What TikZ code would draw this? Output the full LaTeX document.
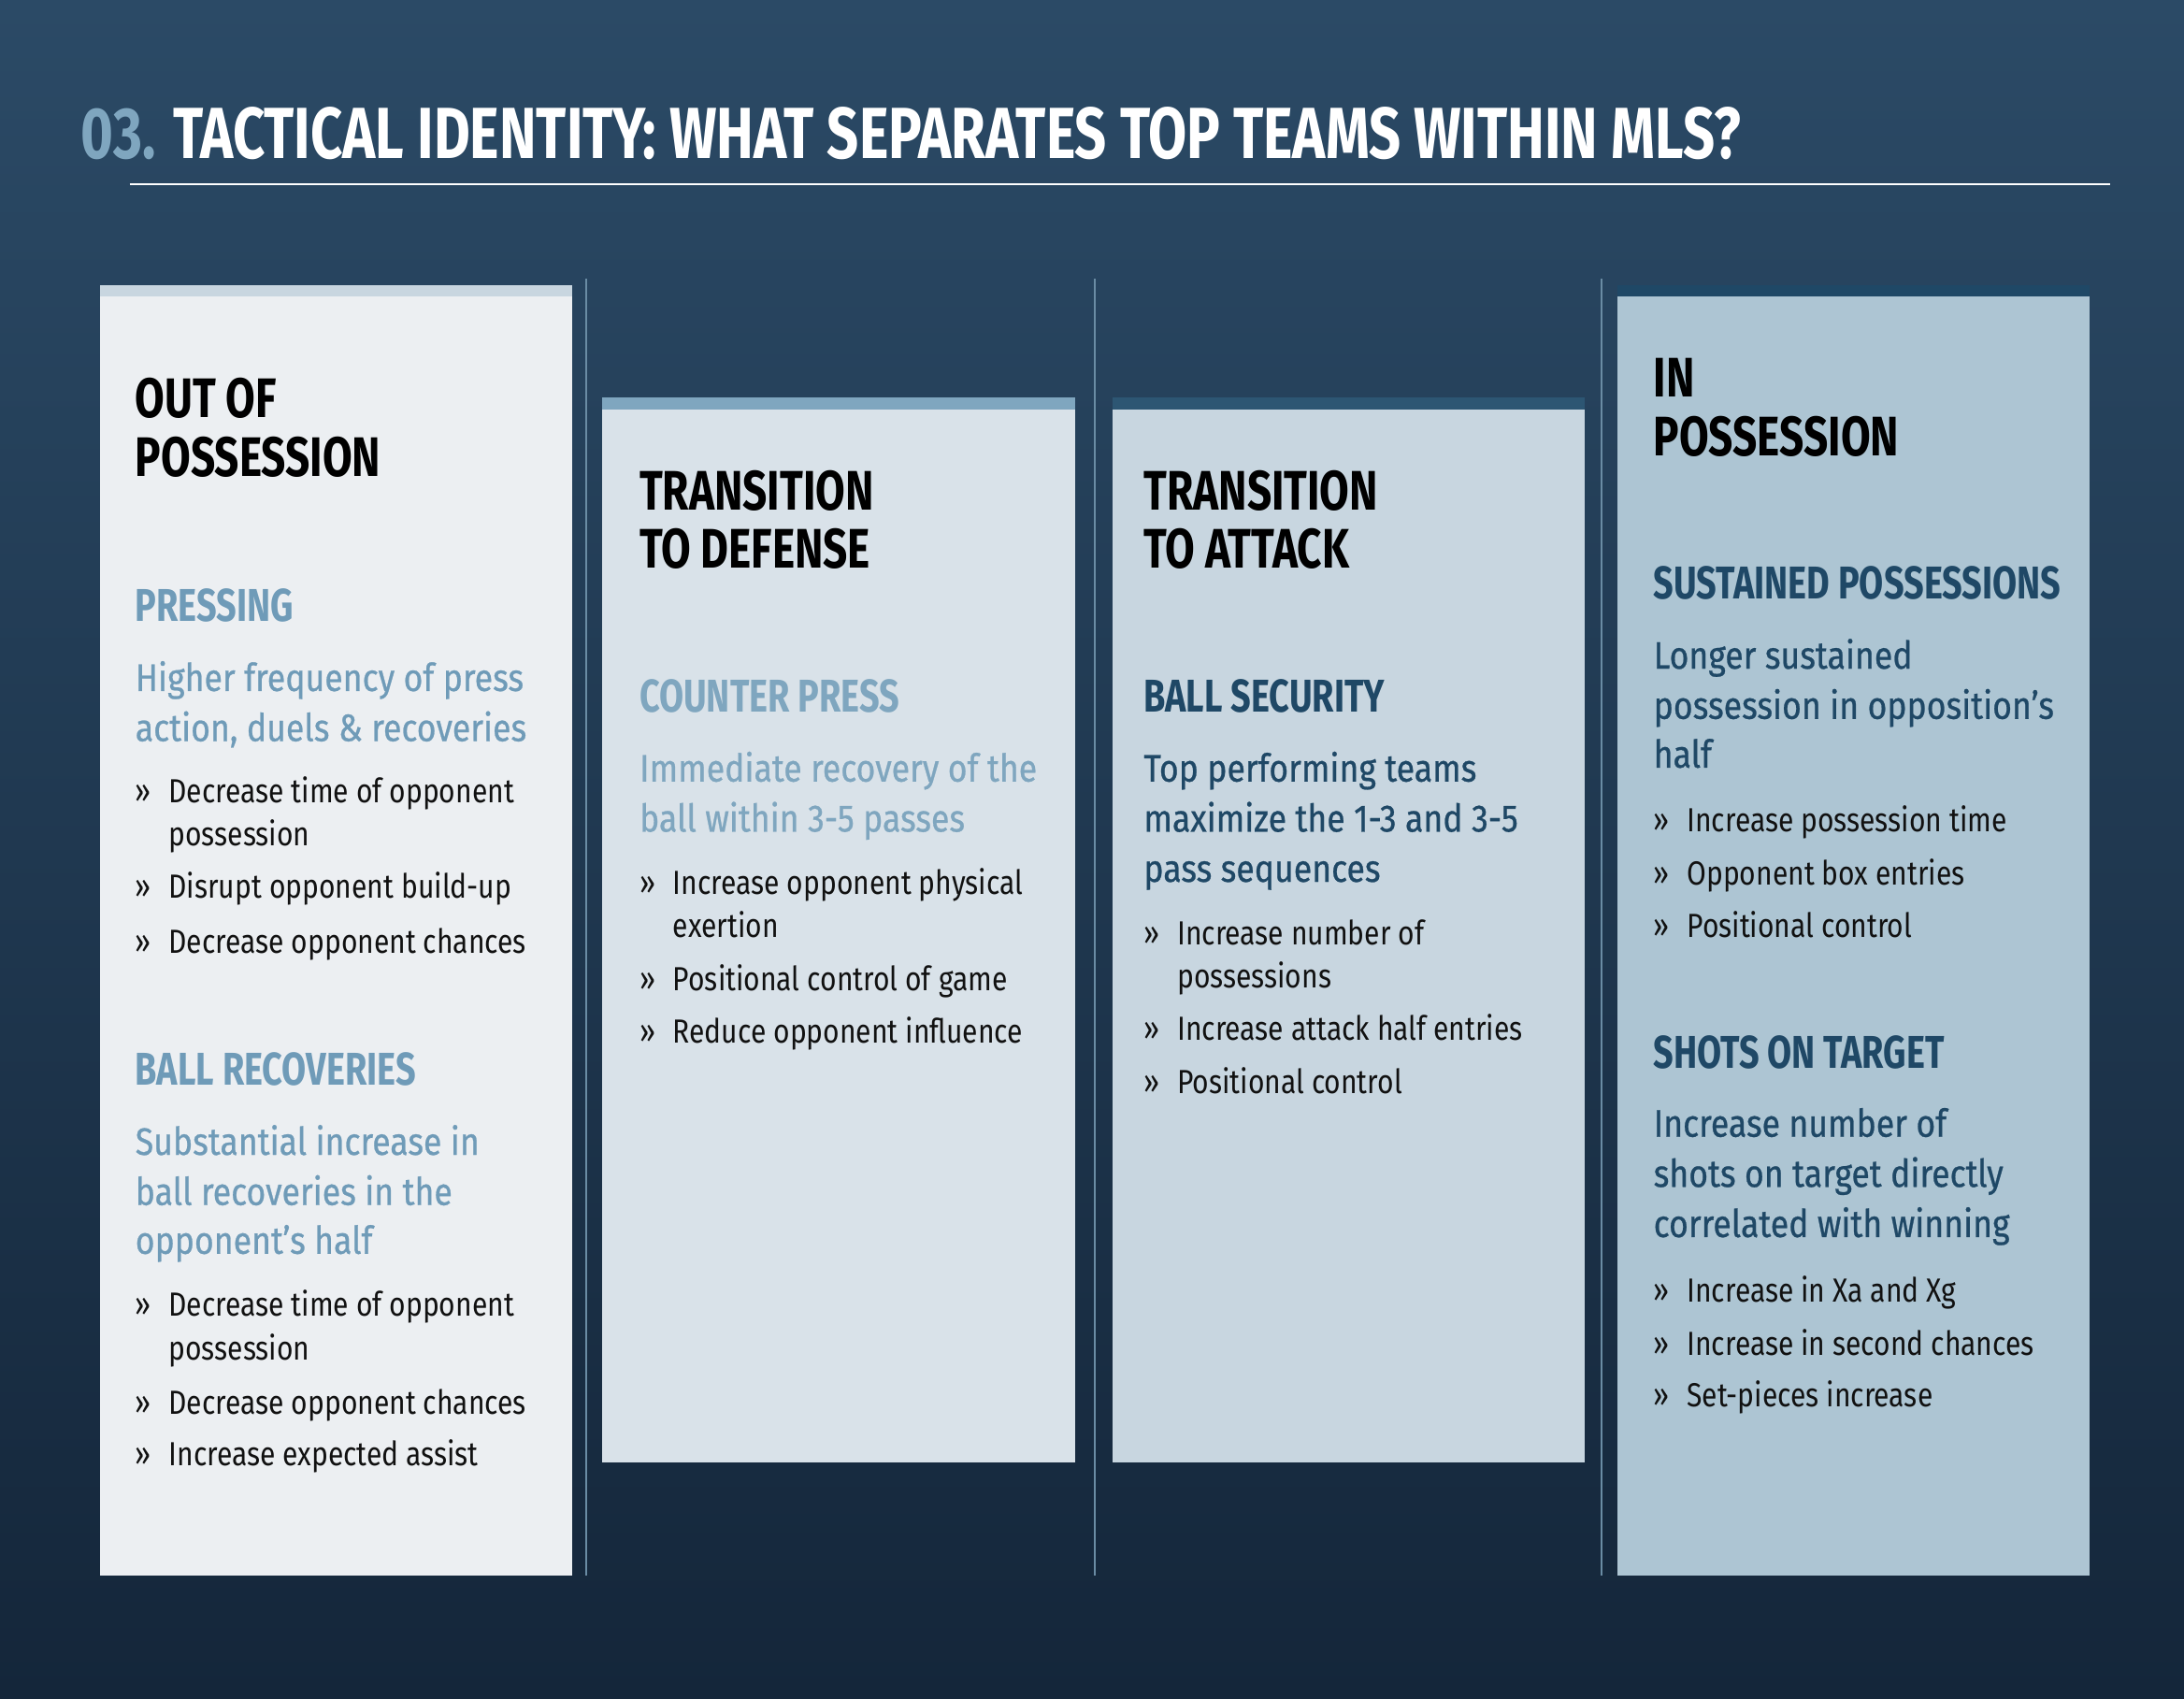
\documentclass[tikz,border=0pt]{standalone}
\usepackage{fontspec}
\setmainfont[FakeStretch=0.84]{Fira Sans}
\newfontfamily\hdfont[FakeStretch=0.77]{Fira Sans}
\newfontfamily\leadfont[FakeStretch=0.87,FakeBold=0.6]{Fira Sans}
\definecolor{bgtop}{HTML}{2B4A66}
\definecolor{bgbot}{HTML}{14263A}
\definecolor{lb}{HTML}{7FA6BF}
\definecolor{mb}{HTML}{6F9BB8}
\definecolor{db}{HTML}{1F4866}
\definecolor{cA}{HTML}{ECEFF2}
\definecolor{cB}{HTML}{D9E2E9}
\definecolor{cC}{HTML}{C8D6E0}
\definecolor{cD}{HTML}{ADC5D3}
\definecolor{ink}{HTML}{111111}
\tikzset{
 big/.style={anchor=base west,inner sep=0,font=\hdfont\bfseries\fontsize{40}{42}\selectfont,text=black},
 sub/.style={anchor=base west,inner sep=0,font=\hdfont\bfseries\fontsize{33}{36}\selectfont},
 lead/.style={anchor=base west,inner sep=0,font=\leadfont\fontsize{27.5}{35.7}\selectfont},
 bul/.style={anchor=base west,inner sep=0,font=\fontsize{24}{31}\selectfont,text=ink},
 sep/.style={draw=lb!80!bgbot,line width=1.4pt}
}
\newcommand{\blt}[4]{\node[bul] at (#1,#3) {»}; \node[bul] at (#2,#3) {#4};}
\begin{document}
\begin{tikzpicture}[x=1pt,y=-1pt]
\shade[top color=bgtop,bottom color=bgbot] (0,0) rectangle (1568,1219);
\useasboundingbox (0,0) rectangle (1568,1219);
% title
\node[anchor=base west,inner sep=0,font=\hdfont\bfseries\fontsize{52}{52}\selectfont] (title) at (58,114) {\textcolor{lb}{03.} \textcolor{white}{TACTICAL IDENTITY: WHAT SEPARATES TOP TEAMS WITHIN MLS?}};
\draw[white,line width=1.2pt] (93,132) -- (1515,132);
% columns
\fill[cA] (72,205) rectangle (411,1131); \fill[cC] (72,205) rectangle (411,213);
\fill[cB] (432,285) rectangle (772,1050); \fill[lb] (432,285) rectangle (772,294);
\fill[cC] (799,285) rectangle (1138,1050); \fill[db!85!lb] (799,285) rectangle (1138,294);
\fill[cD] (1161,205) rectangle (1500,1131); \fill[db] (1161,205) rectangle (1500,213);
\draw[sep] (421,200) -- (421,1131);
\draw[sep] (786,200) -- (786,1131);
\draw[sep] (1150,200) -- (1150,1131);
% col1
\node[big] (h1a) at (97,300) {OUT OF};
\node[big] (h1b) at (97,342) {POSSESSION};
\node[sub,text=mb] (s1) at (97,446) {PRESSING};
\node[lead,text=mb] (l1a) at (97,496) {Higher frequency of press};
\node[lead,text=mb] (l1b) at (97,532) {action, duels \& recoveries};
\blt{97}{121}{576}{Decrease time of opponent}
\node[bul] at (121,607) {possession};
\blt{97}{121}{645}{Disrupt opponent build-up}
\blt{97}{121}{684}{Decrease opponent chances}
\node[sub,text=mb] (s2) at (97,779) {BALL RECOVERIES};
\node[lead,text=mb] (l2a) at (97,829) {Substantial increase in};
\node[lead,text=mb] (l2b) at (97,865) {ball recoveries in the};
\node[lead,text=mb] (l2c) at (97,900) {opponent’s half};
\blt{97}{121}{945}{Decrease time of opponent}
\node[bul] at (121,976) {possession};
\blt{97}{121}{1015}{Decrease opponent chances}
\blt{97}{121}{1052}{Increase expected assist}
% col2
\node[big] (h2a) at (459,366) {TRANSITION};
\node[big] (h2b) at (459,408) {TO DEFENSE};
\node[sub,text=lb] (s3) at (459,511) {COUNTER PRESS};
\node[lead,text=lb] (l3a) at (459,561) {Immediate recovery of the};
\node[lead,text=lb] (l3b) at (459,597) {ball within 3-5 passes};
\blt{459}{483}{642}{Increase opponent physical}
\node[bul] at (483,673) {exertion};
\blt{459}{483}{711}{Positional control of game}
\blt{459}{483}{749}{Reduce opponent influence}
% col3
\node[big] (h3a) at (821,366) {TRANSITION};
\node[big] (h3b) at (821,408) {TO ATTACK};
\node[sub,text=db] (s4) at (821,511) {BALL SECURITY};
\node[lead,text=db] (l4a) at (821,561) {Top performing teams};
\node[lead,text=db] (l4b) at (821,597) {maximize the 1-3 and 3-5};
\node[lead,text=db] (l4c) at (821,633) {pass sequences};
\blt{821}{845}{678}{Increase number of}
\node[bul] at (845,709) {possessions};
\blt{821}{845}{747}{Increase attack half entries}
\blt{821}{845}{785}{Positional control}
% col4
\node[big] (h4a) at (1187,285) {IN};
\node[big] (h4b) at (1187,327) {POSSESSION};
\node[sub,text=db] (s5) at (1187,430) {SUSTAINED POSSESSIONS};
\node[lead,text=db] (l5a) at (1187,480) {Longer sustained};
\node[lead,text=db] (l5b) at (1187,516) {possession in opposition’s};
\node[lead,text=db] (l5c) at (1187,551) {half};
\blt{1187}{1211}{597}{Increase possession time}
\blt{1187}{1211}{635}{Opponent box entries}
\blt{1187}{1211}{673}{Positional control}
\node[sub,text=db] (s6) at (1187,767) {SHOTS ON TARGET};
\node[lead,text=db] (l6a) at (1187,816) {Increase number of};
\node[lead,text=db] (l6b) at (1187,852) {shots on target directly};
\node[lead,text=db] (l6c) at (1187,888) {correlated with winning};
\blt{1187}{1211}{935}{Increase in Xa and Xg}
\blt{1187}{1211}{973}{Increase in second chances}
\blt{1187}{1211}{1010}{Set-pieces increase}
\end{tikzpicture}
\end{document}
